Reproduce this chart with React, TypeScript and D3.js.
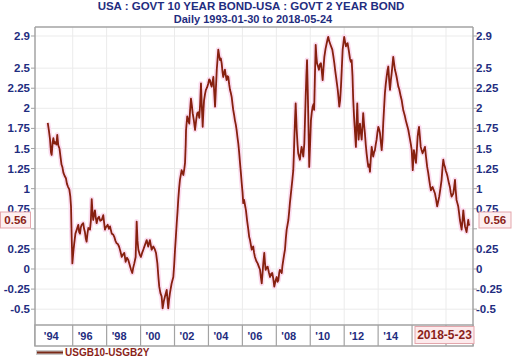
import React from "react";
import * as d3 from "d3";

const W = 512;
const H = 358;

const title = "USA : GOVT 10 YEAR BOND-USA : GOVT 2 YEAR BOND";
const subtitle = "Daily 1993-01-30 to 2018-05-24";
const seriesName = "USGB10-USGB2Y";
const lastDateLabel = "2018-5-23";
const lastValueLabel = "0.56";

const yTicks = [2.9, 2.5, 2.25, 2, 1.75, 1.5, 1.25, 1, 0.75, 0.5, 0.25, 0, -0.25, -0.5];
const yTickLabels = ["2.9", "2.5", "2.25", "2", "1.75", "1.5", "1.25", "1", "0.75", "", "0.25", "0", "-0.25", "-0.5"];
const xLabelYears = [1994, 1996, 1998, 2000, 2002, 2004, 2006, 2008, 2010, 2012, 2014];
const xLabels = ["'94", "'96", "'98", "'00", "'02", "'04", "'06", "'08", "'10", "'12", "'14"];
const gridYears = [1995, 1997, 1999, 2001, 2003, 2005, 2007, 2009, 2011, 2013, 2015, 2017];

// decimal years
const years = [
  1993.53, 1993.6, 1993.66, 1993.72, 1993.76, 1993.82, 1993.86, 1993.92, 1993.96, 1994.04,
  1994.09, 1994.15, 1994.22, 1994.28, 1994.34, 1994.39, 1994.45, 1994.52, 1994.6, 1994.66,
  1994.73, 1994.8, 1994.86, 1994.9, 1994.94, 1994.98, 1995.04, 1995.09, 1995.16, 1995.24,
  1995.33, 1995.38, 1995.43, 1995.48, 1995.53, 1995.62, 1995.67, 1995.72, 1995.77, 1995.82,
  1995.87, 1995.92, 1996.02, 1996.07, 1996.12, 1996.17, 1996.21, 1996.26, 1996.31, 1996.36,
  1996.41, 1996.48, 1996.55, 1996.62, 1996.71, 1996.8, 1996.85, 1996.9, 1996.96, 1997.06,
  1997.13, 1997.2, 1997.3, 1997.38, 1997.45, 1997.52, 1997.59, 1997.66, 1997.73, 1997.81,
  1997.89, 1997.96, 1998.04, 1998.12, 1998.2, 1998.28, 1998.36, 1998.44, 1998.51, 1998.57,
  1998.63, 1998.71, 1998.77, 1998.82, 1998.87, 1998.95, 1999.02, 1999.09, 1999.16, 1999.26,
  1999.36, 1999.45, 1999.55, 1999.65, 1999.75, 1999.83, 1999.91, 1999.99, 2000.05, 2000.1,
  2000.17, 2000.24, 2000.3, 2000.37, 2000.44, 2000.54, 2000.63, 2000.68, 2000.73, 2000.83,
  2000.93, 2000.98, 2001.03, 2001.08, 2001.13, 2001.18, 2001.22, 2001.27, 2001.32, 2001.42,
  2001.52, 2001.58, 2001.62, 2001.66, 2001.68, 2001.75, 2001.81, 2001.87, 2001.92, 2001.97,
  2002.02, 2002.07, 2002.14, 2002.21, 2002.28, 2002.34, 2002.4, 2002.46, 2002.51, 2002.56,
  2002.61, 2002.66, 2002.7, 2002.74, 2002.8, 2002.85, 2002.92, 2002.99, 2003.04, 2003.09,
  2003.14, 2003.19, 2003.24, 2003.29, 2003.34, 2003.39, 2003.44, 2003.49, 2003.54, 2003.58,
  2003.63, 2003.68, 2003.73, 2003.78, 2003.83, 2003.87, 2003.92, 2003.97, 2004.02, 2004.07,
  2004.12, 2004.17, 2004.22, 2004.27, 2004.32, 2004.37, 2004.42, 2004.46, 2004.51, 2004.56,
  2004.61, 2004.66, 2004.71, 2004.76, 2004.81, 2004.86, 2004.91, 2004.96, 2005.01, 2005.05,
  2005.1, 2005.15, 2005.21, 2005.28, 2005.35, 2005.4, 2005.45, 2005.5, 2005.55, 2005.64,
  2005.69, 2005.74, 2005.82, 2005.9, 2005.97, 2006.04, 2006.09, 2006.14, 2006.19, 2006.23,
  2006.29, 2006.33, 2006.37, 2006.43, 2006.49, 2006.56, 2006.63, 2006.7, 2006.76, 2006.82,
  2006.88, 2006.95, 2007.02, 2007.07, 2007.12, 2007.17, 2007.21, 2007.27, 2007.32, 2007.36,
  2007.41, 2007.46, 2007.51, 2007.56, 2007.61, 2007.66, 2007.71, 2007.76, 2007.8, 2007.85,
  2007.9, 2007.95, 2008.0, 2008.03, 2008.06, 2008.1, 2008.14, 2008.17, 2008.2, 2008.25,
  2008.29, 2008.34, 2008.39, 2008.44, 2008.49, 2008.54, 2008.59, 2008.65, 2008.69, 2008.73,
  2008.77, 2008.81, 2008.85, 2008.88, 2008.91, 2008.94, 2008.99, 2009.04, 2009.09, 2009.14,
  2009.19, 2009.23, 2009.27, 2009.32, 2009.36, 2009.4, 2009.46, 2009.51, 2009.57, 2009.63,
  2009.68, 2009.73, 2009.78, 2009.83, 2009.9, 2009.97, 2010.02, 2010.06, 2010.11, 2010.16,
  2010.23, 2010.3, 2010.36, 2010.42, 2010.47, 2010.52, 2010.57, 2010.62, 2010.67, 2010.71,
  2010.76, 2010.81, 2010.86, 2010.91, 2010.96, 2011.0, 2011.05, 2011.1, 2011.15, 2011.2,
  2011.27, 2011.34, 2011.39, 2011.44, 2011.49, 2011.53, 2011.58, 2011.63, 2011.69, 2011.73,
  2011.77, 2011.81, 2011.85, 2011.89, 2011.93, 2011.98, 2012.03, 2012.08, 2012.12, 2012.17,
  2012.22, 2012.27, 2012.32, 2012.37, 2012.42, 2012.47, 2012.52, 2012.57, 2012.62, 2012.67,
  2012.71, 2012.76, 2012.81, 2012.86, 2012.91, 2012.96, 2013.01, 2013.06, 2013.11, 2013.16,
  2013.21, 2013.26, 2013.3, 2013.35, 2013.4, 2013.45, 2013.5, 2013.55, 2013.6, 2013.65,
  2013.7, 2013.75, 2013.8, 2013.85, 2013.89, 2013.94, 2013.99, 2014.04, 2014.09, 2014.14,
  2014.19, 2014.24, 2014.29, 2014.34, 2014.39, 2014.44, 2014.48, 2014.53, 2014.58, 2014.63,
  2014.68, 2014.73, 2014.78, 2014.83, 2014.88, 2014.93, 2014.98, 2015.01, 2015.04, 2015.08,
  2015.11, 2015.17, 2015.23, 2015.28, 2015.33, 2015.37, 2015.41, 2015.46, 2015.51, 2015.56,
  2015.62, 2015.69, 2015.76, 2015.82, 2015.89, 2015.95, 2016.01, 2016.06, 2016.11, 2016.16,
  2016.21, 2016.28, 2016.35, 2016.42, 2016.48, 2016.54, 2016.6, 2016.67, 2016.74, 2016.79,
  2016.84, 2016.89, 2016.94, 2016.99, 2017.04, 2017.09, 2017.13, 2017.18, 2017.23, 2017.28,
  2017.33, 2017.38, 2017.43, 2017.48, 2017.53, 2017.57, 2017.62, 2017.67, 2017.72, 2017.77,
  2017.82, 2017.87, 2017.92, 2017.97, 2018.02, 2018.07, 2018.12, 2018.16, 2018.21, 2018.26,
  2018.31, 2018.35, 2018.39,
];

const values = [
  1.82, 1.72, 1.62, 1.45, 1.42, 1.58, 1.63, 1.56, 1.58, 1.55,
  1.67, 1.54, 1.5, 1.4, 1.3, 1.27, 1.2, 1.16, 1.13, 1.06,
  1.02, 0.99, 0.9, 0.78, 0.4, 0.07, 0.22, 0.32, 0.44, 0.49,
  0.55, 0.46, 0.44, 0.52, 0.55, 0.57, 0.5, 0.46, 0.38, 0.34,
  0.44, 0.51, 0.49, 0.6, 0.87, 0.7, 0.61, 0.68, 0.73, 0.64,
  0.57, 0.63, 0.65, 0.6, 0.61, 0.67, 0.58, 0.49, 0.52, 0.55,
  0.5, 0.53, 0.44, 0.43, 0.4, 0.35, 0.32, 0.31, 0.28, 0.22,
  0.15, 0.18, 0.2, 0.09, 0.14, 0.11, 0.05, -0.01, -0.05, 0.02,
  0.07, 0.15, 0.59, 0.35, 0.24, 0.18, 0.15, 0.2, 0.24, 0.3,
  0.36, 0.28, 0.36, 0.24, 0.28, 0.25, 0.2, 0.07, -0.1, -0.22,
  -0.3, -0.34, -0.49, -0.4, -0.34, -0.26, -0.49, -0.38, -0.3, -0.18,
  -0.1, 0.05, 0.24, 0.4, 0.57, 0.72, 0.86, 1.0, 1.11, 1.23,
  1.17, 1.25, 1.32, 1.55, 1.73, 1.9, 1.85, 1.81, 1.98, 2.12,
  2.04, 1.94, 1.85, 1.73, 1.86, 1.94, 1.95, 1.88, 2.05, 2.31,
  2.02, 1.77, 1.95, 2.1, 2.18, 2.23, 2.26, 2.31, 2.36, 2.35,
  2.3, 2.27, 2.33, 2.39, 2.2, 2.02, 2.25, 2.48, 2.62, 2.73,
  2.66, 2.6, 2.62, 2.56, 2.45, 2.39, 2.44, 2.48, 2.41, 2.35,
  2.4, 2.39, 2.3, 2.23, 2.19, 2.14, 2.05, 1.98, 1.92, 1.85,
  1.8, 1.73, 1.64, 1.56, 1.45, 1.32, 1.2, 1.07, 0.95, 0.82,
  0.86, 0.8, 0.73, 0.6, 0.49, 0.4, 0.36, 0.3, 0.24, 0.28,
  0.2, 0.15, 0.1, 0.07, 0.03, -0.01, -0.1, -0.18, -0.05, 0.07,
  0.2, 0.08, -0.01, 0.02, 0.03, -0.04, -0.1, -0.06, -0.05, -0.12,
  -0.22, -0.15, -0.1, -0.16, -0.14, -0.05, -0.01, -0.03, -0.05, 0.04,
  0.11, 0.18, 0.24, 0.38, 0.49, 0.55, 0.61, 0.72, 0.82, 0.92,
  1.02, 1.12, 1.23, 1.4, 1.61, 1.85, 2.06, 1.9, 1.73, 1.55,
  1.44, 1.4, 1.36, 1.45, 1.52, 1.46, 1.4, 1.56, 1.85, 2.14,
  2.4, 2.6, 2.25, 1.94, 1.6, 1.27, 1.55, 1.85, 1.95, 2.02,
  2.05, 1.98, 2.35, 2.79, 2.65, 2.56, 2.52, 2.48, 2.55, 2.56,
  2.46, 2.35, 2.5, 2.64, 2.74, 2.81, 2.86, 2.89, 2.84, 2.81,
  2.77, 2.73, 2.65, 2.56, 2.47, 2.39, 2.31, 2.23, 2.12, 2.02,
  2.1, 2.27, 2.5, 2.73, 2.82, 2.89, 2.83, 2.77, 2.8, 2.81,
  2.72, 2.62, 2.58, 2.6, 2.4, 2.12, 1.9, 1.72, 1.52, 1.8,
  2.06, 1.8, 1.61, 1.72, 1.81, 1.7, 1.61, 1.78, 1.94, 1.8,
  1.69, 1.55, 1.44, 1.35, 1.27, 1.3, 1.21, 1.38, 1.52, 1.45,
  1.4, 1.45, 1.48, 1.55, 1.61, 1.7, 1.77, 1.74, 1.69, 1.58,
  1.48, 1.62, 1.81, 2.0, 2.19, 2.3, 2.39, 2.47, 2.52, 2.35,
  2.23, 2.35, 2.44, 2.55, 2.64, 2.56, 2.48, 2.44, 2.39, 2.33,
  2.27, 2.24, 2.19, 2.14, 2.1, 2.03, 1.98, 1.94, 1.9, 1.85,
  1.81, 1.77, 1.73, 1.67, 1.61, 1.55, 1.48, 1.35, 1.23, 1.38,
  1.48, 1.4, 1.32, 1.48, 1.65, 1.72, 1.77, 1.65, 1.52, 1.48,
  1.44, 1.48, 1.52, 1.4, 1.27, 1.2, 1.11, 1.04, 0.98, 1.0,
  1.02, 0.98, 0.94, 0.86, 0.78, 0.84, 0.9, 1.0, 1.11, 1.25,
  1.36, 1.3, 1.27, 1.22, 1.19, 1.15, 1.11, 1.06, 1.02, 0.95,
  0.9, 0.92, 0.94, 1.02, 1.11, 0.98, 0.86, 0.82, 0.78, 0.7,
  0.61, 0.55, 0.49, 0.6, 0.73, 0.62, 0.53, 0.5, 0.46, 0.53,
  0.61, 0.55, 0.56,
];

const FONT = "'Liberation Sans', Arial, Helvetica, sans-serif";
const NAVY = "#1f2d80";
const MAROON = "#8a1f1a";
const FRAME = "#a3a3a3";

const plotLeft = 35;
const plotRight = 473;
const plotTop = 27;
const plotBottom = 325;
const axisBoxBottom = 346;

export default function App() {
  const x = d3.scaleLinear().domain([1992.778, 2018.591]).range([plotLeft, plotRight]);
  const y = d3.scaleLinear().domain([-0.697, 3.012]).range([plotBottom, plotTop]);

  const line = d3
    .line<number>()
    .x((_, i) => x(years[i]))
    .y((d) => y(d));
  const path = line(values) || "";

  const lastVal = values[values.length - 1];
  const lastY = y(lastVal) - 4;

  return (
    <svg
      width={W}
      height={H}
      viewBox={`0 0 ${W} ${H}`}
      style={{ position: "absolute", left: 0, top: 0, background: "#fff" }}
      fontFamily={FONT}
    >
      <rect x={0} y={0} width={W} height={H} fill="#fff" />

      {/* title */}
      <text x={251} y={10.2} textAnchor="middle" fontSize={11.5} fontWeight="bold" fill={NAVY}>
        {title}
      </text>
      <text x={253} y={23} textAnchor="middle" fontSize={11} fontWeight="bold" fill={NAVY}>
        {subtitle}
      </text>

      {/* grid */}
      {yTicks.map((t) => (
        <line key={"gy" + t} x1={plotLeft} x2={plotRight} y1={y(t)} y2={y(t)} stroke="#ebebeb" strokeWidth={1} />
      ))}
      {gridYears.map((g) => (
        <line key={"gx" + g} x1={x(g)} x2={x(g)} y1={plotTop} y2={plotBottom} stroke="#ebebeb" strokeWidth={1} />
      ))}

      {/* frame */}
      <line x1={plotLeft} x2={plotRight} y1={plotTop} y2={plotTop} stroke={FRAME} strokeWidth={1.5} />
      <line x1={plotLeft} x2={plotLeft} y1={plotTop} y2={axisBoxBottom} stroke={FRAME} strokeWidth={1.5} />
      <line x1={plotRight} x2={plotRight} y1={plotTop} y2={axisBoxBottom} stroke={FRAME} strokeWidth={1.5} />

      {/* y ticks & labels */}
      {yTicks.map((t, i) => (
        <g key={"yt" + t}>
          <line x1={plotLeft - 4} x2={plotLeft} y1={y(t)} y2={y(t)} stroke={FRAME} />
          <line x1={plotRight} x2={plotRight + 4} y1={y(t)} y2={y(t)} stroke={FRAME} />
          {yTickLabels[i] && (
            <text x={30} y={y(t)} dy="0.35em" textAnchor="end" fontSize={11.5} fontWeight="bold" fill={NAVY}>
              {yTickLabels[i]}
            </text>
          )}
          {yTickLabels[i] && (
            <text x={476} y={y(t)} dy="0.35em" textAnchor="start" fontSize={11.5} fontWeight="bold" fill={NAVY}>
              {yTickLabels[i]}
            </text>
          )}
        </g>
      ))}

      {/* series */}
      <path d={path} fill="none" stroke="#fbdcef" strokeWidth={5} strokeLinejoin="round" />
      <path d={path} fill="none" stroke="#86200f" strokeWidth={1.8} strokeLinejoin="round" />

      {/* x axis box */}
      <rect x={plotLeft} y={plotBottom} width={plotRight - plotLeft} height={axisBoxBottom - plotBottom} fill="#fff" stroke={FRAME} strokeWidth={1.5} />
      {gridYears.map((g) => (
        <line key={"xd" + g} x1={x(g)} x2={x(g)} y1={plotBottom} y2={axisBoxBottom} stroke={FRAME} strokeWidth={1.2} />
      ))}
      {xLabelYears.map((yr, i) => (
        <text key={"xl" + yr} x={x(yr) - 4.5} y={336} dy="0.35em" textAnchor="middle" fontSize={11} fontWeight="bold" fill={NAVY}>
          {xLabels[i]}
        </text>
      ))}
      <rect x={415} y={326.5} width={59} height={17} fill="#fdeaec" stroke="#e3a6ac" strokeWidth={1} />
      <text x={444.5} y={335} dy="0.35em" textAnchor="middle" fontSize={12} fontWeight="bold" fill={MAROON}>
        {lastDateLabel}
      </text>

      {/* last value labels */}
      <rect x={0.5} y={lastY - 8} width={30} height={16} fill="#fdeff0" stroke="#e3a6ac" strokeWidth={1} />
      <text x={15.5} y={lastY} dy="0.35em" textAnchor="middle" fontSize={11.5} fontWeight="bold" fill={MAROON}>
        {lastValueLabel}
      </text>
      <rect x={479} y={lastY - 8} width={32} height={16} fill="#fdeff0" stroke="#e3a6ac" strokeWidth={1} />
      <text x={495} y={lastY} dy="0.35em" textAnchor="middle" fontSize={11.5} fontWeight="bold" fill={MAROON}>
        {lastValueLabel}
      </text>

      {/* legend */}
      <rect x={36} y={350} width={27} height={5} fill="#c9c9c9" />
      <line x1={37} x2={63} y1={352.5} y2={352.5} stroke="#7a2a18" strokeWidth={2} />
      <text x={65} y={352.5} dy="0.35em" fontSize={10} fontWeight="bold" fill={MAROON}>
        {seriesName}
      </text>
    </svg>
  );
}
